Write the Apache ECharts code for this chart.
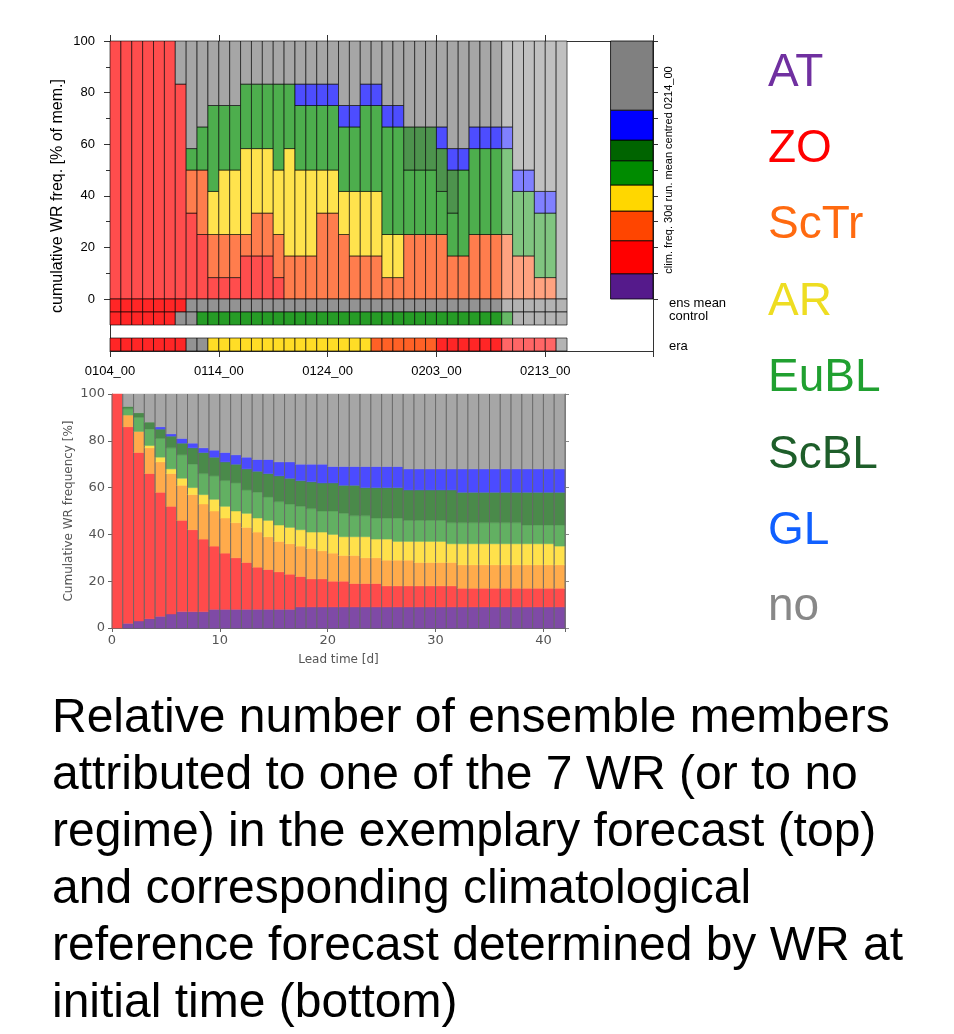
<!DOCTYPE html>
<html>
<head>
<meta charset="utf-8">
<script src="https://cdn.jsdelivr.net/npm/echarts@6/dist/echarts.min.js"></script>
<style>
html, body { margin: 0; padding: 0; background: #fff; }
#chart { width: 954px; height: 1034px; }
</style>
</head>
<body>
<div id="chart"></div>
<script>
// weather regimes, bottom of the stack first
var regimes = ['AT', 'ZO', 'ScTr', 'AR', 'EuBL', 'ScBL', 'GL', 'no'];
var dateLabels = ['0104_00', '0114_00', '0124_00', '0203_00', '0213_00'];

// exemplary forecast: cumulative freq. [% of mem.] per day (top of each regime)
var fcAT   = [0,0,0,0,0,0,0,0,0,0, 0,0,0,0,0,0,0,0,0,0, 0,0,0,0,0,0,0,0,0,0, 0,0,0,0,0,0,0,0,0,0, 0,0];
var fcZO   = [100,100,100,100,100,100,83.3,33.3,25,8.3, 8.3,8.3,16.7,16.7,16.7,8.3,0,0,0,0, 0,0,0,0,0,0,0,0,0,0, 0,0,0,0,0,0,0,0,0,0, 0,0];
var fcScTr = [100,100,100,100,100,100,83.3,50,50,25, 25,25,25,33.3,33.3,25,16.7,16.7,16.7,33.3, 33.3,25,16.7,16.7,16.7,8.3,8.3,25,25,25, 25,16.7,16.7,25,25,25,25,16.7,16.7,8.3, 8.3,0];
var fcAR   = [100,100,100,100,100,100,83.3,50,50,41.7, 50,50,58.3,58.3,58.3,50,58.3,50,50,50, 50,41.7,41.7,41.7,41.7,25,25,25,25,25, 25,16.7,16.7,25,25,25,25,16.7,16.7,8.3, 8.3,0];
var fcEuBL = [100,100,100,100,100,100,83.3,58.3,66.7,75, 75,75,83.3,83.3,83.3,83.3,83.3,75,75,75, 75,66.7,66.7,75,75,66.7,66.7,50,50,50, 41.7,33.3,50,58.3,58.3,58.3,58.3,41.7,41.7,33.3, 33.3,0];
var fcScBL = [100,100,100,100,100,100,83.3,58.3,66.7,75, 75,75,83.3,83.3,83.3,83.3,83.3,75,75,75, 75,66.7,66.7,75,75,66.7,66.7,66.7,66.7,66.7, 58.3,50,50,58.3,58.3,58.3,58.3,41.7,41.7,33.3, 33.3,0];
var fcGL   = [100,100,100,100,100,100,83.3,58.3,66.7,75, 75,75,83.3,83.3,83.3,83.3,83.3,83.3,83.3,83.3, 83.3,75,75,83.3,83.3,75,75,66.7,66.7,66.7, 66.7,58.3,58.3,66.7,66.7,66.7,66.7,50,50,41.7, 41.7,0];

// regime of ens mean, control and era per day
var ensMeanWR = ['ZO','ZO','ZO','ZO','ZO','ZO','ZO','no','no','no', 'no','no','no','no','no','no','no','no','no','no', 'no','no','no','no','no','no','no','no','no','no', 'no','no','no','no','no','no','no','no','no','no', 'no','no'];
var controlWR = ['ZO','ZO','ZO','ZO','ZO','ZO','no','no','EuBL','EuBL', 'EuBL','EuBL','EuBL','EuBL','EuBL','EuBL','EuBL','EuBL','EuBL','EuBL', 'EuBL','EuBL','EuBL','EuBL','EuBL','EuBL','EuBL','EuBL','EuBL','EuBL', 'EuBL','EuBL','EuBL','EuBL','EuBL','EuBL','EuBL','no','no','no', 'no','no'];
var eraWR     = ['ZO','ZO','ZO','ZO','ZO','ZO','ZO','no','no','AR', 'AR','AR','AR','AR','AR','AR','AR','AR','AR','AR', 'AR','AR','AR','AR','ScTr','ScTr','ScTr','ScTr','ScTr','ScTr', 'ZO','ZO','ZO','ZO','ZO','ZO','ZO','ZO','ZO','ZO', 'ZO','no'];

// clim. freq. 30d run. mean centred 0214_00, cumulative
var climTop = [9.8, 22.6, 34.1, 44.2, 53.6, 61.6, 73.2, 100];

// climatological reference forecast: cumulative WR frequency [%] per lead day
var refAT   = [0,2,3,4,5,6,7,7,7,8, 8,8,8,8,8,8,8,9,9,9, 9,9,9,9,9,9,9,9,9,9, 9,9,9,9,9,9,9,9,9,9, 9,9];
var refZO   = [100,86,75,66,58,52,46,42,38,35, 32,30,28,26,25,24,23,22,21,21, 20,20,19,19,19,18,18,18,18,18, 18,18,17,17,17,17,17,17,17,17, 17,17];
var refScTr = [100,91,84,77,71,66,61,57,53,50, 47,45,43,41,39,37,36,35,34,33, 32,31,31,30,30,29,29,29,28,28, 28,28,27,27,27,27,27,27,27,27, 27,27];
var refAR   = [100,91,84,78,73,68,64,60,57,55, 52,50,49,47,46,44,43,42,41,41, 40,39,39,39,38,38,37,37,37,37, 37,36,36,36,36,36,36,36,36,36, 36,35];
var refEuBL = [100,93.7,90,85,81,77,74,70,66,65, 63,62,59,58,56,54,53,52,51,50, 50,49,48,48,47,47,47,46,46,46, 46,45,45,45,45,45,45,45,44,44, 44,44];
var refScBL = [100,94.7,92,88,85,82,79,77,75,73, 71,70,68,67,66,65,64,63,62.5,62, 62,61,61,60,60,60,60,59,59,59, 59,59,58,58,58,58,58,58,58,58, 58,58];
var refGL   = [100,94.7,92,88,86,83,81,79,77,76, 75,74,73,72,72,71,71,70,70,70, 69,69,69,69,69,69,69,68,68,68, 68,68,68,68,68,68,68,68,68,68, 68,68];

var caption = [
	'Relative number of ensemble members',
	'attributed to one of the 7 WR (or to no',
	'regime) in the exemplary forecast (top)',
	'and corresponding climatological',
	'reference forecast determined by WR at',
	'initial time (bottom)'
];

var fcColors = ['#551a8b', '#ff0000', '#ff4500', '#ffd700', '#008b00', '#006400', '#0000ff', '#808080'];
var refColors = ['#7f4aa6', '#ff4b4b', '#ffab4b', '#ffe14b', '#62b062', '#4a8a4a', '#4b4bff', '#a6a6a6'];
var nameColors = ['#7030a0', '#ff0000', '#ff6a10', '#eedd22', '#20a030', '#1e5e2a', '#1060ff', '#888888'];

var fadeFrom = 36;       // later days are drawn paler
var cbarX = [46, 49.9];  // colour bar column in day units
var stripRows = [[-5, 0], [-10, -5], [-20, -15]];

// blend a colour with white
function tint(hex, a) {
	var n = parseInt(hex.slice(1), 16);
	var r = (n >> 16) & 255, g = (n >> 8) & 255, b = n & 255;
	return 'rgb(' + Math.round(255 - (255 - r) * a) + ',' + Math.round(255 - (255 - g) * a) + ',' + Math.round(255 - (255 - b) * a) + ')';
}

function stackData(cum) {
	var out = [];
	for (var i = 0; i < cum[0].length; i++) {
		var lo = 0;
		for (var r = 0; r < 8; r++) {
			var hi = r < 7 ? cum[r][i] : 100;
			if (hi > lo) {
				out.push([i, lo, hi, r]);
				lo = hi;
			}
		}
	}
	return out;
}

window.onload = function () {
	var myChart = echarts.init(document.getElementById('chart'));

	var fcBars = stackData([fcAT, fcZO, fcScTr, fcAR, fcEuBL, fcScBL, fcGL]);
	var refBars = stackData([refAT, refZO, refScTr, refAR, refEuBL, refScBL, refGL]);

	var stripData = [];
	[ensMeanWR, controlWR, eraWR].forEach(function (row, k) {
		for (var i = 0; i < row.length; i++) stripData.push([i, k, regimes.indexOf(row[i])]);
	});

	var climData = [];
	for (var r = 0; r < climTop.length; r++) climData.push([r, r ? climTop[r - 1] : 0, climTop[r]]);

	var blackLine = { onZero: false, lineStyle: { color: '#333', width: 1 } };
	var topFont = 'Liberation Sans';
	var botFont = 'DejaVu Sans';

	var graphics = [];
	regimes.forEach(function (name, k) {
		graphics.push({
			type: 'text', left: 768, top: 50 + 76.4 * k,
			style: { text: name, font: '46px "Liberation Sans"', fill: nameColors[k] }
		});
	});
	caption.forEach(function (line, k) {
		graphics.push({
			type: 'text', left: 52, top: 695 + 57 * k,
			style: { text: line, font: '48px "Liberation Sans"', fill: '#000' }
		});
	});
	[['ens mean', 297], ['control', 310], ['era', 340]].forEach(function (t) {
		graphics.push({
			type: 'text', left: 669, top: t[1],
			style: { text: t[0], font: '13px "Liberation Sans"', fill: '#000' }
		});
	});
	// y title of the top panel is centred on the whole frame, strips included
	graphics.push({
		type: 'text', x: 58, y: 196, rotation: Math.PI / 2,
		style: { text: 'cumulative WR freq. [% of mem.]', font: '16px "Liberation Sans"', fill: '#000',
			align: 'center', verticalAlign: 'middle' }
	});

	myChart.setOption({
		animation: false,
		backgroundColor: '#fff',
		textStyle: { fontFamily: topFont },
		graphic: graphics,
		grid: [
			{ left: 110, top: 41, width: 543, height: 258 },
			{ left: 110, top: 299, width: 543, height: 52 },
			{ left: 112, top: 394, width: 453, height: 234 }
		],
		xAxis: [
			{ gridIndex: 0, type: 'value', min: 0, max: 49.9, interval: 10, position: 'top',
				axisLine: blackLine, axisTick: { length: 6, lineStyle: { color: '#333' } },
				axisLabel: { show: false }, splitLine: { show: false } },
			{ gridIndex: 1, type: 'value', min: 0, max: 49.9, interval: 10, position: 'bottom',
				axisLine: blackLine, axisTick: { length: 6, lineStyle: { color: '#333' } },
				axisLabel: { margin: 14, fontSize: 13, color: '#000', fontFamily: topFont,
					formatter: function (v) { return v % 10 === 0 ? dateLabels[v / 10] : ''; } },
				splitLine: { show: false } },
			{ gridIndex: 2, type: 'value', min: 0, max: 42, interval: 10, position: 'bottom',
				axisLine: { onZero: false, lineStyle: { color: '#666' } },
				axisTick: { length: 4, lineStyle: { color: '#666' } },
				axisLabel: { margin: 6, fontSize: 13, color: '#555', fontFamily: botFont,
					formatter: function (v) { return v % 10 === 0 ? v : ''; } },
				splitLine: { show: false },
				name: 'Lead time [d]', nameLocation: 'middle', nameGap: 26,
				nameTextStyle: { fontSize: 12, color: '#555', fontFamily: botFont } },
			{ gridIndex: 2, type: 'value', min: 0, max: 42, position: 'top',
				axisLine: { onZero: false, lineStyle: { color: '#888' } }, axisTick: { show: false },
				axisLabel: { show: false }, splitLine: { show: false } }
		],
		yAxis: [
			{ gridIndex: 0, type: 'value', min: 0, max: 100, interval: 20, position: 'left',
				axisLine: { show: true, onZero: false, lineStyle: { color: '#333' } },
				axisTick: { show: true, length: 6, lineStyle: { color: '#333' } },
				minorTick: { show: true, splitNumber: 2, length: 4, lineStyle: { color: '#333' } },
				axisLabel: { margin: 15, fontSize: 13, color: '#000' },
				splitLine: { show: false } },
			{ gridIndex: 0, type: 'value', min: 0, max: 100, interval: 10, position: 'right',
				axisLine: { show: true, onZero: false, lineStyle: { color: '#333' } },
				axisTick: { show: true, length: 5, lineStyle: { color: '#333' } },
				axisLabel: { show: false }, splitLine: { show: false },
				name: 'clim. freq. 30d run. mean centred 0214_00', nameLocation: 'middle', nameGap: 10,
				nameRotate: 90, nameTextStyle: { fontSize: 11, color: '#000' } },
			{ gridIndex: 1, type: 'value', min: -20, max: 0, position: 'left',
				axisLine: { show: true, onZero: false, lineStyle: { color: '#333' } }, axisTick: { show: false },
				axisLabel: { show: false }, splitLine: { show: false } },
			{ gridIndex: 1, type: 'value', min: -20, max: 0, position: 'right',
				axisLine: { show: true, onZero: false, lineStyle: { color: '#333' } }, axisTick: { show: false },
				axisLabel: { show: false }, splitLine: { show: false } },
			{ gridIndex: 2, type: 'value', min: 0, max: 100, interval: 20, position: 'left',
				axisLine: { show: true, onZero: false, lineStyle: { color: '#666' } },
				axisTick: { show: true, length: 4, lineStyle: { color: '#666' } },
				axisLabel: { margin: 7, fontSize: 13, color: '#555', fontFamily: botFont },
				splitLine: { show: false },
				name: 'Cumulative WR frequency [%]', nameLocation: 'middle', nameGap: 37,
				nameTextStyle: { fontSize: 12, color: '#555', fontFamily: botFont } },
			{ gridIndex: 2, type: 'value', min: 0, max: 100, interval: 20, position: 'right',
				axisLine: { show: true, onZero: false, lineStyle: { color: '#888' } },
				axisTick: { show: true, length: 4, lineStyle: { color: '#888' } },
				axisLabel: { show: false }, splitLine: { show: false } }
		],
		series: [
			{
				type: 'custom', name: 'forecast', xAxisIndex: 0, yAxisIndex: 0,
				data: fcBars,
				renderItem: function (params, api) {
					var i = api.value(0), r = api.value(3);
					var a = api.coord([i, api.value(2)]), b = api.coord([i + 1, api.value(1)]);
					return {
						type: 'rect',
						shape: { x: a[0], y: a[1], width: b[0] - a[0], height: b[1] - a[1] },
						style: { fill: tint(fcColors[r], i >= fadeFrom ? 0.5 : 0.7), stroke: 'rgba(0,0,0,0.75)', lineWidth: 0.8 }
					};
				}
			},
			{
				type: 'custom', name: 'clim', xAxisIndex: 0, yAxisIndex: 0,
				data: climData,
				renderItem: function (params, api) {
					var r = api.value(0);
					var a = api.coord([cbarX[0], api.value(2)]), b = api.coord([cbarX[1], api.value(1)]);
					return {
						type: 'rect',
						shape: { x: a[0], y: a[1], width: b[0] - a[0], height: b[1] - a[1] },
						style: { fill: fcColors[r], stroke: '#000', lineWidth: 0.8 }
					};
				}
			},
			{
				type: 'custom', name: 'strips', xAxisIndex: 1, yAxisIndex: 2,
				data: stripData,
				renderItem: function (params, api) {
					var i = api.value(0), k = api.value(1), r = api.value(2);
					var a = api.coord([i, stripRows[k][1]]), b = api.coord([i + 1, stripRows[k][0]]);
					return {
						type: 'rect',
						shape: { x: a[0], y: a[1], width: b[0] - a[0], height: b[1] - a[1] },
						style: { fill: tint(fcColors[r], i >= fadeFrom ? 0.6 : 0.85), stroke: 'rgba(0,0,0,0.8)', lineWidth: 0.8 }
					};
				}
			},
			{
				type: 'custom', name: 'reference', xAxisIndex: 2, yAxisIndex: 4,
				data: refBars,
				renderItem: function (params, api) {
					var i = api.value(0), r = api.value(3);
					var a = api.coord([i, api.value(2)]), b = api.coord([i + 1, api.value(1)]);
					var c = refColors[r];
					return {
						type: 'group',
						children: [
							{ type: 'rect', shape: { x: a[0], y: a[1], width: b[0] - a[0], height: b[1] - a[1] },
								style: { fill: c, stroke: c, lineWidth: 0.5 } },
							{ type: 'line', shape: { x1: a[0], y1: a[1], x2: a[0], y2: b[1] },
								style: { stroke: '#666', lineWidth: 0.9 } },
							{ type: 'line', shape: { x1: b[0], y1: a[1], x2: b[0], y2: b[1] },
								style: { stroke: '#666', lineWidth: 0.9 } }
						]
					};
				}
			}
		]
	});
};
</script>
</body>
</html>
